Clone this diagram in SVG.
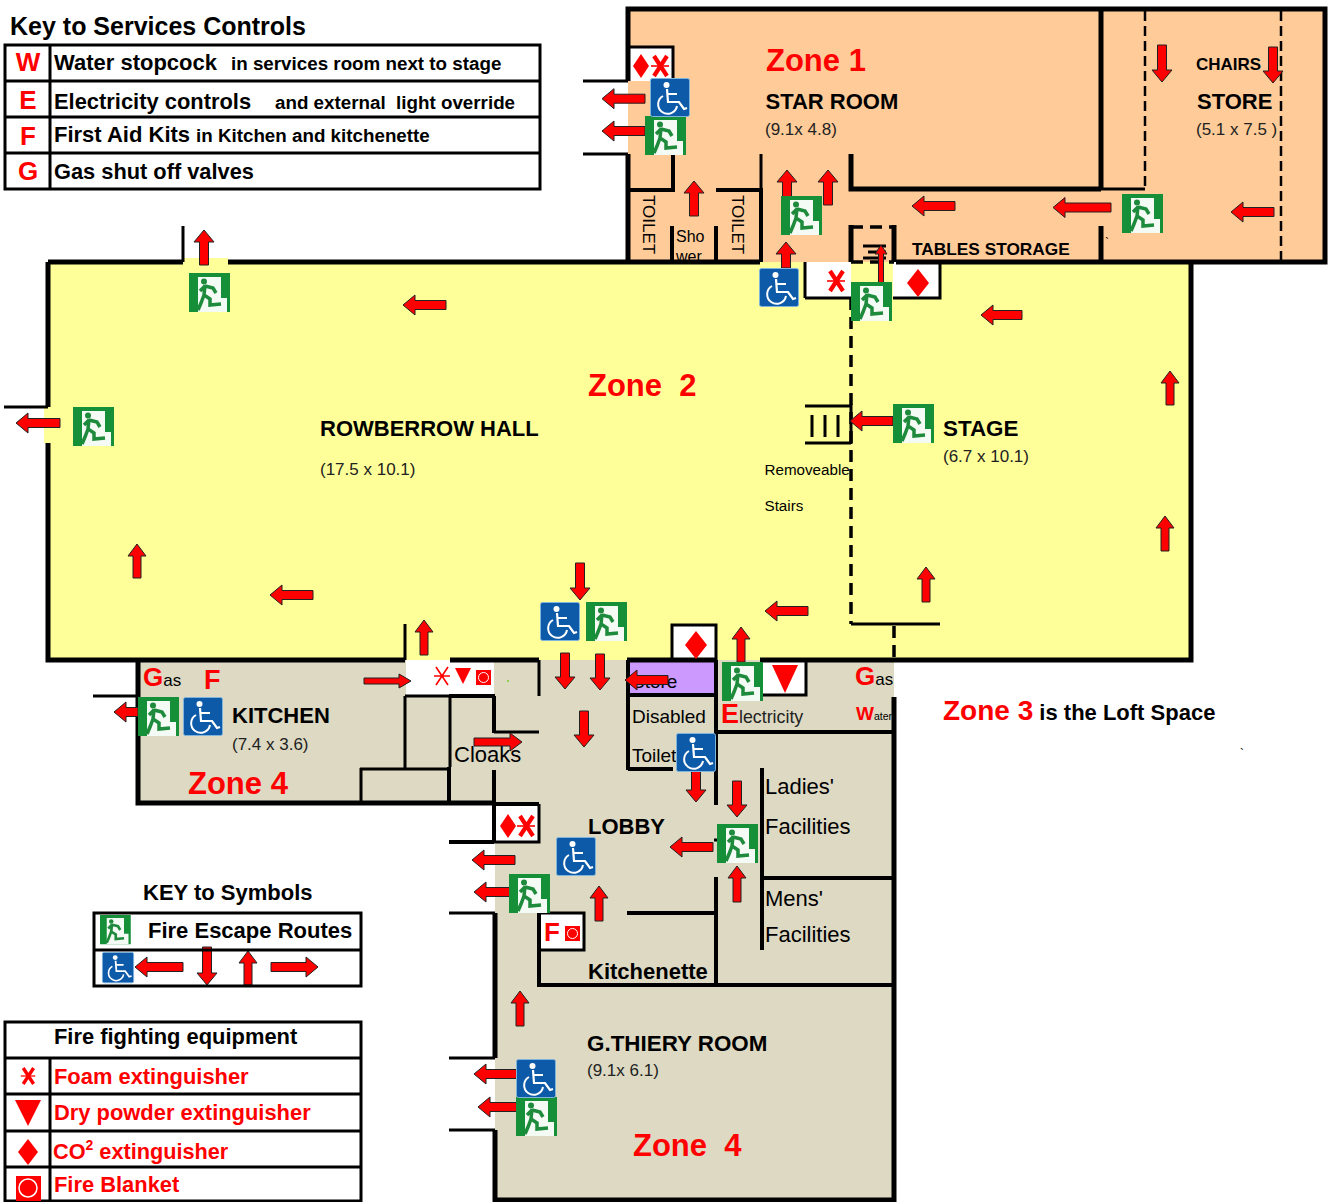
<svg xmlns="http://www.w3.org/2000/svg" xmlns:xlink="http://www.w3.org/1999/xlink" width="1330" height="1202" viewBox="0 0 1330 1202">
<style>
text{font-family:"Liberation Sans",Arial,sans-serif;fill:#000;white-space:pre}
.b{font-weight:bold}
.r{fill:#f00;font-weight:bold}
.zone{font-size:31px;fill:#f00;font-weight:bold}
.rm{font-size:22px;font-weight:bold}
.dim{font-size:17px;fill:#222}
.w{fill:none;stroke:#000;stroke-width:5}
.i{fill:none;stroke:#000;stroke-width:4}
.t{fill:none;stroke:#000;stroke-width:3}
.d{fill:none;stroke:#000;stroke-width:3.500;stroke-dasharray:12 7}
.d2{fill:none;stroke:#000;stroke-width:2.500;stroke-dasharray:10 5}
.a{fill:#f00;stroke:#222;stroke-width:1}
.sym{fill:#f00}
.x{fill:none;stroke:#f00}
</style>
<defs>
<g id="exit">
<rect width="41" height="39" fill="#169038"/>
<path d="M9 4H32V25H38V39H9Z" fill="#f4faf4"/>
<circle cx="15" cy="8.500" r="3" fill="#1d8a3c"/>
<path d="M16 12L15 22L21 26L21 32L32 31M15 22L12 30L9 37M16 13L11 18M16 13L24 15L27 20" fill="none" stroke="#1d8a3c" stroke-width="3.500"/>
</g>
<g id="wc">
<rect x="0.500" y="0.500" width="39" height="38" rx="2" fill="#0d5aa8" stroke="#7fb4dc"/>
<circle cx="16.500" cy="7" r="3" fill="#fff"/>
<path d="M17 11L18 24H29L34 31L37 30M17.500 16H27" fill="none" stroke="#fff" stroke-width="2.200"/>
<path d="M13 18A9.500 9.500 0 1 0 27 28" fill="none" stroke="#fff" stroke-width="2"/>
</g>
<g id="foam"><path d="M-6 -10L7 10M7 -10L-6 10" class="x" stroke-width="4.200"/><path d="M-9 0H9" class="x" stroke-width="1.600"/></g>
<g id="foamthin"><path d="M-6 -9L6 9M6 -9L-6 9M-8 0H8" class="x" stroke-width="1.600"/></g>
<g id="blank"><rect width="15" height="15" fill="#f00"/><circle cx="7.500" cy="7.500" r="5" fill="none" stroke="#fff" stroke-width="1"/></g>
</defs>

<g id="floor-fills">
<path d="M628 9H1325V262H628Z" fill="#ffcc99"/>
<path d="M138 660H894V1200H495V804H138Z" fill="#ddd9c3"/>
<rect x="406" y="660" width="88" height="35" fill="#fff"/>
<rect x="630" y="662" width="85" height="32" fill="#cc99ff"/>
<rect x="628" y="47" width="45" height="34" fill="#fff"/>
<rect x="495" y="805" width="44" height="37" fill="#fff"/>
<rect x="539" y="913" width="45" height="37" fill="#fff"/>
<rect x="760" y="660" width="46" height="35" fill="#fff"/>
<text x="676" y="242" font-size="16">Sho</text>
<text x="676" y="262" font-size="16">wer</text>
<path d="M48 262H1191V660H48Z" fill="#ffff99"/>
<rect x="184" y="258" width="44" height="6" fill="#ffff99"/>
<rect x="805" y="262" width="46" height="36" fill="#fff"/>
<rect x="893" y="262" width="47" height="36" fill="#fff"/>
<rect x="672" y="625" width="44" height="35" fill="#fff"/>
<rect x="44" y="407" width="8" height="36" fill="#ffff99"/>
</g>

<g id="walls">
<path class="w" d="M628 81V9H1325V262H896M628 154V262M851 154V189H1101M1101 9V189M1101 226V262"/>
<path class="t" d="M583 81H628M583 154H628M628 47H673V81M761 154V190M1101 189H1145"/>
<path class="i" d="M628 190H673V153M716 190H761V262M672 226V262M716 226V262"/>
<path class="w" d="M48 262H183M228 262H760M851 225V262M894 225V262"/>
<path class="t" d="M183 226V262M805 298V262M805 298H851M893 298H940V262M4 407H48M405 624V660M672 660V625H716V660"/>
<path class="w" d="M48 262V407M48 443V660H405M450 660H539M627 660H716M760 660H1191V262"/>
<path class="t" d="M539 660V696M93 696H138"/>
<path class="w" d="M138 660V803H495"/>
<path class="i" d="M449 767V804M494 696V733M494 770V842M495 804H539M449 696H495M449 842H494"/>
<path class="t" d="M494 732H539M539 804V842H449M449 913H495M449 1058H495M449 1130H495M405 696H449M405 696V768M450 695V767M360 769H449M361 768V803"/>
<path class="w" d="M495 913V1058M495 1130V1200H894V697"/>
<path class="i" d="M628 660V770M628 695H716M628 769H673M716 660V805M716 732H894M762 768V950M762 878H894M716 877V985M627 913H716M539 913V985H894"/>
<path class="t" d="M539 913H584V950H539M806 660V695H760M714 840H718"/>
<path class="d" d="M851 298V624M851 262H894M851 227H894"/>
<path class="t" d="M851 404V444M805 406H851M805 443H851M851 624H940"/>
<path class="d" d="M894 626V660"/>
<path class="d2" d="M1145 11V189M1281 11V262"/>
<path class="t" stroke-width="2" d="M812 415V437M825 415V437M838 415V437M863 246H886M868 252H886M863 258H886"/>
</g>

<g id="legend-services">
<text x="10" y="35" class="b" font-size="25">Key to Services Controls</text>
<path class="t" d="M5 45H540V189H5ZM5 81H540M5 117H540M5 153H540M50 45V189"/>
<text x="28" y="71" class="r" font-size="26" text-anchor="middle">W</text>
<text x="28" y="109" class="r" font-size="26" text-anchor="middle">E</text>
<text x="28" y="145" class="r" font-size="26" text-anchor="middle">F</text>
<text x="28" y="180" class="r" font-size="26" text-anchor="middle">G</text>
<text x="54" y="70" class="b" font-size="22">Water stopcock</text>
<text x="231" y="70" class="b" font-size="18.800">in services room next to stage</text>
<text x="54" y="109" class="b" font-size="21.900">Electricity controls</text>
<text x="275" y="109" class="b" font-size="18.800">and external  light override</text>
<text x="54" y="142" class="b" font-size="22">First Aid Kits</text>
<text x="196" y="142" class="b" font-size="18.800">in Kitchen and kitchenette</text>
<text x="54" y="179" class="b" font-size="21.800">Gas shut off valves</text>
</g>

<g id="labels">
<text x="766" y="70.500" class="zone">Zone 1</text>
<text x="765.500" y="109" class="rm">STAR ROOM</text>
<text x="765" y="135" class="dim">(9.1x 4.8)</text>
<text x="1196" y="70" class="b" font-size="17">CHAIRS</text>
<text x="1197" y="109" class="b" font-size="22">STORE</text>
<text x="1196" y="135" class="dim">(5.1 x 7.5 )</text>
<text x="912" y="255" class="b" font-size="17.300">TABLES STORAGE</text>
<text x="1105" y="247" font-size="12">`</text>
<text transform="translate(643,195) rotate(90)" font-size="17">TOILET</text>
<text transform="translate(732,195) rotate(90)" font-size="17">TOILET</text>
<text x="588" y="396" class="zone">Zone  2</text>
<text x="320" y="436" class="rm">ROWBERROW HALL</text>
<text x="320" y="475" class="dim">(17.5 x 10.1)</text>
<text x="943" y="436" class="b" font-size="22.400">STAGE</text>
<text x="943" y="461.500" class="dim">(6.7 x 10.1)</text>
<text x="764.500" y="475" font-size="15.200" fill="#222">Removeable</text>
<text x="764.500" y="511" font-size="15.200" fill="#222">Stairs</text>
<text x="232" y="723" class="rm">KITCHEN</text>
<text x="232" y="750" class="dim">(7.4 x 3.6)</text>
<text x="188" y="794" class="zone">Zone 4</text>
<text x="143" y="686"><tspan class="r" font-size="26">G</tspan><tspan font-size="17">as</tspan></text>
<text x="204" y="689" class="r" font-size="27">F</text>
<text x="855" y="685"><tspan class="r" font-size="26">G</tspan><tspan font-size="17">as</tspan></text>
<text x="721" y="723"><tspan class="r" font-size="27">E</tspan><tspan font-size="17.800" fill="#222">lectricity</tspan></text>
<text x="856" y="720"><tspan class="r" font-size="19">W</tspan><tspan font-size="10.500">ater</tspan></text>
<text x="632" y="688" font-size="19">Store</text>
<text x="632" y="723" font-size="19">Disabled</text>
<text x="632" y="762" font-size="19">Toilet</text>
<text x="454" y="762" font-size="22">Cloaks</text>
<text x="765" y="794" font-size="22">Ladies'</text>
<text x="765" y="834" font-size="22">Facilities</text>
<text x="765" y="906" font-size="22">Mens'</text>
<text x="765" y="942" font-size="22">Facilities</text>
<text x="588" y="834" class="rm">LOBBY</text>
<text x="588" y="979" class="b" font-size="22">Kitchenette</text>
<text x="587" y="1051" class="b" font-size="22.400">G.THIERY ROOM</text>
<text x="587" y="1076" class="dim">(9.1x 6.1)</text>
<text x="633" y="1156" class="zone">Zone  4</text>
<text x="943" y="720"><tspan class="r" font-size="28">Zone 3</tspan><tspan class="b" font-size="22"> is the Loft Space</tspan></text>
<text x="1240" y="758" font-size="12">`</text>
<text x="544" y="941" class="r" font-size="26">F</text>
</g>

<g id="connectors">
<path class="a" d="M602 98.700l12-10v5.500h31v9h-31v5.500z"/>
<path class="a" d="M602 131l12-10v5.500h31v9h-31v5.500z"/>
<path class="a" d="M912 206l12-10v5.500h31v9h-31v5.500z"/>
<path class="a" d="M1053 207.500l12-10v5.500h46v9h-46v5.500z"/>
<path class="a" d="M1231 212l12-10v5.500h31v9h-31v5.500z"/>
<path class="a" d="M403 305l12-10v5.500h31v9h-31v5.500z"/>
<path class="a" d="M981 315l12-10v5.500h29v9h-29v5.500z"/>
<path class="a" d="M850 421l12-10v5.500h31v9h-31v5.500z"/>
<path class="a" d="M16 423l12-10v5.500h32v9h-32v5.500z"/>
<path class="a" d="M270 595l12-10v5.500h31v9h-31v5.500z"/>
<path class="a" d="M765 611l12-10v5.500h31v9h-31v5.500z"/>
<path class="a" d="M625 680l12-10v5.500h31v9h-31v5.500z"/>
<path class="a" d="M114 712l12-10v5.500h12v9h-12v5.500z"/>
<path class="a" d="M670 847l12-10v5.500h31v9h-31v5.500z"/>
<path class="a" d="M472 860l12-10v5.500h31v9h-31v5.500z"/>
<path class="a" d="M474 892l12-10v5.500h24v9h-24v5.500z"/>
<path class="a" d="M474 1074l12-10v5.500h31v9h-31v5.500z"/>
<path class="a" d="M478 1107l12-10v5.500h27v9h-27v5.500z"/>
<path class="a" d="M135 967l12-10v5.500h36v9h-36v5.500z"/>
<path class="a" d="M411 681l-12-7v4h-35v6h35v4z"/>
<path class="a" d="M522 742l-12-9v5h-36v8h36v5z"/>
<path class="a" d="M318 967l-12-10v5.500h-35v9h35v5.500z"/>
<path class="a" d="M694 181l-10 12h5.500v23h9v-23h5.500z"/>
<path class="a" d="M787 170l-10 12h5.500v15h9v-15h5.500z"/>
<path class="a" d="M828 170l-10 12h5.500v23h9v-23h5.500z"/>
<path class="a" d="M786 242l-10 12h5.500v14h9v-14h5.500z"/>
<path class="a" d="M881 245l-6 9h3.500v31h5v-31h3.500z"/>
<path class="a" d="M204 230l-10 12h5.500v23h9v-23h5.500z"/>
<path class="a" d="M1170 371l-9 12h5v22h8v-22h5z"/>
<path class="a" d="M1165 516l-9 12h5v23h8v-23h5z"/>
<path class="a" d="M137 544l-9 12h5v22h8v-22h5z"/>
<path class="a" d="M926 567l-9 12h5v23h8v-23h5z"/>
<path class="a" d="M424 620l-9 12h5v23h8v-23h5z"/>
<path class="a" d="M741 627l-9 12h5v23h8v-23h5z"/>
<path class="a" d="M737 866l-9 12h5v24h8v-24h5z"/>
<path class="a" d="M599 886l-9 12h5v23h8v-23h5z"/>
<path class="a" d="M520 991l-9 12h5v23h8v-23h5z"/>
<path class="a" d="M248 951l-9 12h5v22h8v-22h5z"/>
<path class="a" d="M1162 82l-10-12h5.500v-25h9v25h5.500z"/>
<path class="a" d="M1273 83l-10-12h5.500v-24h9v24h5.500z"/>
<path class="a" d="M580 600l-10-12h5.500v-25h9v25h5.500z"/>
<path class="a" d="M565 689l-10-12h5.500v-24h9v24h5.500z"/>
<path class="a" d="M600 690l-10-12h5.500v-24h9v24h5.500z"/>
<path class="a" d="M584 747l-10-12h5.500v-24h9v24h5.500z"/>
<path class="a" d="M696 802l-10-12h5.500v-20h9v20h5.500z"/>
<path class="a" d="M737 817l-10-12h5.500v-24h9v24h5.500z"/>
<path class="a" d="M207 985l-10-12h5.500v-26h9v26h5.500z"/>
</g>

<g id="equipment">
<path class="sym" d="M633 66l8-12 8 12-8 12z"/>
<use href="#foam" x="660" y="66"/>
<use href="#foam" x="836" y="281"/>
<path class="sym" d="M907 283l11-14 11 14-11 14z"/>
<path class="sym" d="M685 645l11-14 11 14-11 14z"/>
<use href="#foamthin" x="442" y="676"/>
<path class="sym" d="M455 668h16l-8 16z"/>
<use href="#blank" x="476" y="670"/>
<rect x="507" y="680" width="2" height="2" fill="#92d050"/>
<path class="sym" d="M772 665h26l-13 28z"/>
<path class="sym" d="M500 826l8-12 8 12-8 12z"/>
<use href="#foam" x="526" y="826"/>
<use href="#blank" x="565" y="926"/>
</g>

<g id="exit-signs">
<use href="#exit" x="645" y="116"/>
<use href="#exit" x="781" y="196"/>
<use href="#exit" x="1122" y="194"/>
<use href="#exit" x="851" y="282"/>
<use href="#exit" x="189" y="273"/>
<use href="#exit" x="73" y="407"/>
<use href="#exit" x="893" y="404"/>
<use href="#exit" x="586" y="602"/>
<use href="#exit" x="722" y="662"/>
<use href="#exit" x="138" y="697"/>
<use href="#exit" x="717" y="824"/>
<use href="#exit" x="509" y="874"/>
<use href="#exit" x="516" y="1097"/>
</g>
<g id="wheelchair-signs">
<use href="#wc" x="650" y="78"/>
<use href="#wc" x="759" y="268"/>
<use href="#wc" x="540" y="602"/>
<use href="#wc" x="183" y="697"/>
<use href="#wc" x="676" y="733"/>
<use href="#wc" x="556" y="837"/>
<use href="#wc" x="516" y="1059"/>
</g>

<g id="legend-symbols">
<text x="143" y="900" class="b" font-size="22">KEY to Symbols</text>
<path class="t" d="M94 913H361V986H94ZM94 950H361"/>
<use href="#exit" transform="translate(100,915) scale(.75)"/>
<text x="148" y="938" class="b" font-size="22">Fire Escape Routes</text>
<use href="#wc" transform="translate(102,952) scale(.8)"/>
</g>

<g id="legend-equipment">
<path class="t" d="M5 1022H361V1201H5ZM5 1058H361M5 1094H361M5 1131H361M5 1167H361M50 1058V1201"/>
<text x="54" y="1044" class="b" font-size="21.900">Fire fighting equipment</text>
<text x="54" y="1084" class="r" font-size="21.900">Foam extinguisher</text>
<text x="54" y="1120" class="r" font-size="21.900">Dry powder extinguisher</text>
<text x="53" y="1159" class="r" font-size="21.700">CO<tspan font-size="14" dy="-9">2</tspan><tspan dy="9"> extinguisher</tspan></text>
<text x="54" y="1192" class="r" font-size="21.900">Fire Blanket</text>
<use href="#foam" transform="translate(28,1076) scale(.8)"/>
<path class="sym" d="M15 1100h26l-13 26z"/>
<path class="sym" d="M18 1152l10-13 10 13-10 13z"/>
<rect x="16" y="1176" width="25" height="25" fill="#f00"/>
<circle cx="28" cy="1188" r="9" fill="none" stroke="#fff" stroke-width="1.500"/>
</g>
</svg>
